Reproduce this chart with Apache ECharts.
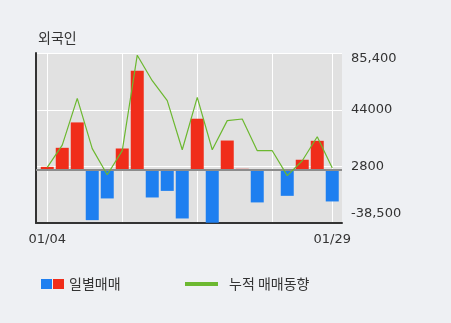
<!DOCTYPE html>
<html><head><meta charset="utf-8">
<script src="https://cdn.jsdelivr.net/npm/echarts@6/dist/echarts.min.js"></script>
<style>html,body{margin:0;padding:0;background:#eef0f3;}#c{width:451px;height:323px;}</style>
</head><body><div id="c"></div>
<script>
var dates = ['01/04','01/05','01/06','01/07','01/08','01/11','01/12','01/13','01/14','01/15','01/18','01/19','01/20','01/21','01/22','01/25','01/26','01/27','01/28','01/29'];
var daily = [2400, 16300, 34800, -36400, -20600, 15800, 72400, -19900, -15100, -35200, 37500, -38300, 21600, 1000, -23500, 0, -18700, 7600, 21400, -22800];
var cumulative = [2000, 18300, 52300, 15700, -3300, 14200, 83800, 65200, 50700, 14900, 53100, 14900, 36100, 37300, 14200, 14200, -4000, 6900, 24400, 1600];
var yTickValues = [-38500, 2800, 44000, 85400];
var yTickLabels = ['-38,500', '2800', '44000', '85,400'];
var xLabelIdx = [0, 19];
var xGridIdx = [0, 5, 10, 15, 19];

var redData = daily.map(function(v,i){ return v > 0 ? [i, v] : [i, null]; });
var blueData = daily.map(function(v,i){ return v < 0 ? [i, v] : [i, null]; });
var lineData = cumulative.map(function(v,i){ return [i, v]; });

var chart = echarts.init(document.getElementById('c'));
chart.setOption({
  backgroundColor:'#eef0f3',
  animation:false,
  title:{text:'외국인', left:33, top:26, textStyle:{fontFamily:'Noto Sans CJK KR', fontSize:14, fontWeight:'normal', color:'#333'}},
  legend:[
    {left:36, top:274, itemWidth:11, itemHeight:10, icon:'rect', data:['일별매매(매도)'], formatter:function(){return '';}, itemGap:0, textStyle:{fontSize:1}},
    {left:48, top:272, itemWidth:11, itemHeight:10, icon:'rect', itemGap:6, data:['일별매매'], textStyle:{fontFamily:'Noto Sans CJK KR', fontSize:14, color:'#333'}},
    {left:180, top:272, itemWidth:33, itemHeight:4, icon:'rect', itemGap:12, data:['누적 매매동향'], textStyle:{fontFamily:'Noto Sans CJK KR', fontSize:14, color:'#333', padding:[0,0,0,6]}}
  ],
  grid:{left:36, right:109, top:53, bottom:100, show:true, backgroundColor:'#e1e1e1', borderWidth:0, containLabel:false},
  xAxis:{type:'value', min:-0.75, max:19.65,
    axisLine:{show:true, onZero:false, lineStyle:{color:'#333', width:2}},
    axisTick:{show:false, customValues:xGridIdx},
    splitLine:{show:true, lineStyle:{color:'#ffffff', width:1}},
    axisLabel:{customValues:xLabelIdx, margin:10, formatter:function(v){return dates[Math.round(v)];}, fontFamily:'DejaVu Sans', fontSize:13, color:'#333'}
  },
  yAxis:[
    {type:'value', position:'right', min:-38500, max:85400,
      axisLine:{show:false}, axisTick:{show:false, customValues:yTickValues},
      splitLine:{show:true, lineStyle:{color:'#ffffff', width:1}},
      axisLabel:{customValues:yTickValues, margin:9,
        formatter:function(v){var k=yTickValues.indexOf(v); var s=yTickLabels[k]; if(k===3) return '{t|'+s+'}'; if(k===0) return '{b|'+s+'}'; return '{n|'+s+'}';},
        rich:{t:{fontFamily:'DejaVu Sans',fontSize:13,color:'#333',padding:[12,0,0,0]}, b:{fontFamily:'DejaVu Sans',fontSize:13,color:'#333',padding:[0,0,18,0]}, n:{fontFamily:'DejaVu Sans',fontSize:13,color:'#333'}}
      }
    },
    {type:'value', position:'left', min:-38500, max:85400,
      axisLine:{show:true, lineStyle:{color:'#333', width:2}}, axisTick:{show:false}, axisLabel:{show:false}, splitLine:{show:false}}
  ],
  series:[
    {name:'일별매매(매도)', type:'bar', data:blueData, barWidth:13, barGap:'-100%', itemStyle:{color:'#1e7ff0'},
      markLine:{silent:true, symbol:'none', label:{show:false}, lineStyle:{color:'#8c8c8c', width:2, type:'solid'}, data:[{yAxis:0}]}},
    {name:'일별매매', type:'bar', data:redData, barWidth:13, barGap:'-100%', itemStyle:{color:'#f02d1a'}},
    {name:'누적 매매동향', type:'line', data:lineData, symbol:'none', z:5, lineStyle:{color:'#6cb830', width:1.2}, itemStyle:{color:'#6cb830'}}
  ]
});
</script></body></html>
